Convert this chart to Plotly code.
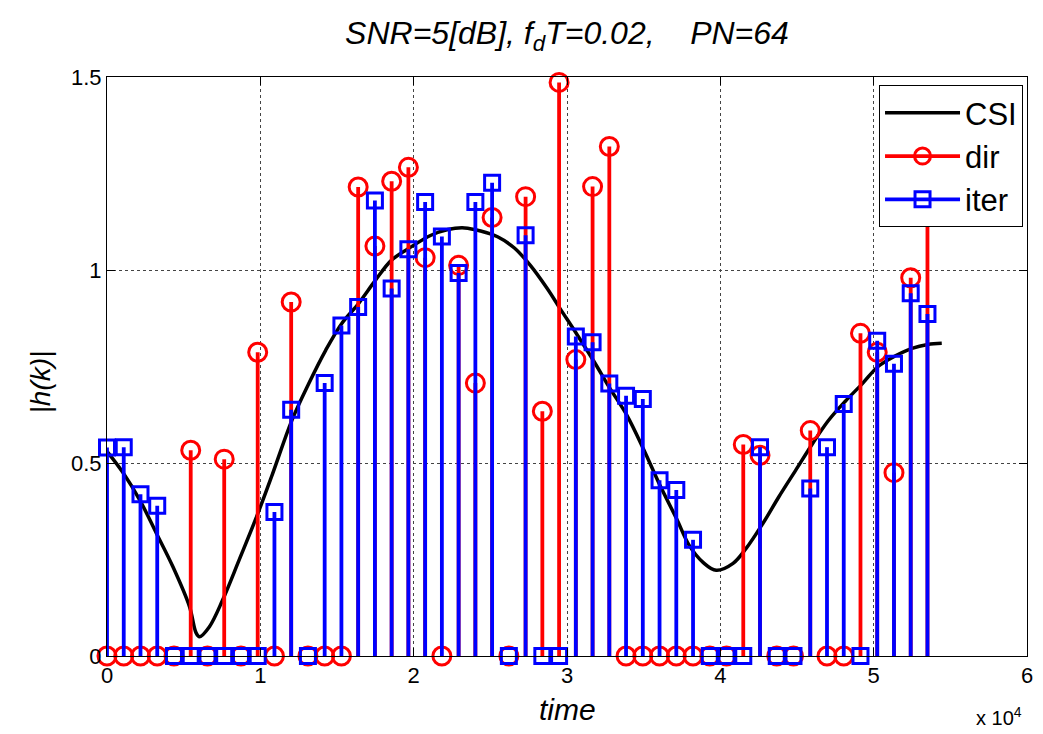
import plotly.graph_objects as go

# Sample grid of the channel estimates (time in units of 10^4)
step = 0.1092
n_samples = 50
sample_t = [k * step for k in range(n_samples)]

# Direct estimate |h(k)|
dir_vals = [0, 0, 0, 0, 0, 0.533, 0, 0.51, 0, 0.787,
            0, 0.917, 0, 0, 0, 1.215, 1.062, 1.23, 1.266, 1.032,
            0, 1.012, 0.707, 1.136, 0, 1.19, 0.634, 1.486, 0.768, 1.216,
            1.32, 0, 0, 0, 0, 0, 0, 0, 0.548, 0.52,
            0, 0, 0.584, 0, 0, 0.836, 0.787, 0.475, 0.98, 1.3]

# Iterative estimate |h(k)|
iter_vals = [0.54, 0.541, 0.419, 0.389, 0, 0, 0, 0, 0, 0,
             0.373, 0.638, 0, 0.707, 0.856, 0.904, 1.18, 0.952, 1.054, 1.176,
             1.087, 0.992, 1.176, 1.226, 0, 1.09, 0, 0, 0.828, 0.813,
             0.706, 0.674, 0.666, 0.455, 0.43, 0.301, 0, 0, 0, 0.541,
             0, 0, 0.434, 0.541, 0.653, 0, 0.817, 0.757, 0.94, 0.886]

# True channel magnitude (CSI)
csi_t = [0.000, 0.106, 0.214, 0.322, 0.430, 0.538, 0.581, 0.603, 0.668, 0.754,
         0.862, 0.970, 1.078, 1.205, 1.316, 1.426, 1.530, 1.640, 1.750, 1.854,
         1.964, 2.113, 2.223, 2.333, 2.437, 2.547, 2.657, 2.761, 2.871, 2.955,
         3.065, 3.176, 3.279, 3.390, 3.500, 3.603, 3.714, 3.798, 3.889, 3.973,
         4.083, 4.167, 4.277, 4.381, 4.491, 4.601, 4.705, 4.815, 4.925, 5.029,
         5.139, 5.250, 5.353, 5.444]
csi_v = [0.530, 0.474, 0.404, 0.318, 0.231, 0.128, 0.060, 0.050, 0.076, 0.145,
         0.249, 0.355, 0.470, 0.610, 0.706, 0.792, 0.861, 0.913, 0.973, 1.025,
         1.055, 1.090, 1.105, 1.109, 1.101, 1.086, 1.057, 1.012, 0.952, 0.900,
         0.833, 0.763, 0.694, 0.624, 0.535, 0.445, 0.356, 0.286, 0.242, 0.222,
         0.240, 0.278, 0.343, 0.412, 0.481, 0.550, 0.610, 0.660, 0.705, 0.750,
         0.777, 0.797, 0.807, 0.810]

x_ticks = [0, 1, 2, 3, 4, 5, 6]
y_ticks = [0, 0.5, 1, 1.5]

SCALE = 1e4
FONT = "Liberation Sans, Arial, Helvetica, sans-serif"
RED = "#ff0000"
BLUE = "#0000ff"


def stem_lines(t, v):
    xs, ys = [], []
    for ti, vi in zip(t, v):
        xs += [ti * SCALE, ti * SCALE, None]
        ys += [0, vi, None]
    return xs, ys


fig = go.Figure()

fig.add_trace(go.Scatter(
    x=[t * SCALE for t in csi_t], y=csi_v, mode="lines", line_shape="spline",
    line=dict(color="black", width=3.5), name="CSI"))

for vals, color, symbol, size, name in [
        (dir_vals, RED, "circle-open", 18, "dir"),
        (iter_vals, BLUE, "square-open", 15, "iter")]:
    sx, sy = stem_lines(sample_t, vals)
    fig.add_trace(go.Scatter(x=sx, y=sy, mode="lines",
                             line=dict(color=color, width=3.8),
                             showlegend=False, hoverinfo="skip"))
    fig.add_trace(go.Scatter(
        x=[t * SCALE for t in sample_t], y=vals, mode="markers",
        marker=dict(symbol=symbol, size=size, color=color,
                    line=dict(color=color, width=3)),
        cliponaxis=False, showlegend=False))
    fig.add_trace(go.Scatter(
        x=[None], y=[None], mode="lines+markers", name=name,
        line=dict(color=color, width=3.8),
        marker=dict(symbol=symbol, size=size, color=color,
                    line=dict(color=color, width=3))))

axis_common = dict(
    showline=True, linecolor="black", linewidth=1, mirror="ticks",
    ticks="inside", ticklen=8, tickcolor="black",
    showgrid=True, gridcolor="#444444", griddash="dot", gridwidth=1,
    zeroline=False, tickfont=dict(family=FONT, size=22, color="black"))

fig.update_xaxes(range=[0, 6 * SCALE], tickvals=[t * SCALE for t in x_ticks],
                 ticktext=[str(t) for t in x_ticks], **axis_common)
fig.update_yaxes(range=[0, 1.5], tickvals=y_ticks,
                 ticktext=["0", "0.5", "1", "1.5"], **axis_common)

fig.update_layout(
    width=1043, height=734,
    margin=dict(l=107, r=10, t=77, b=78),
    plot_bgcolor="white", paper_bgcolor="white",
    font=dict(family=FONT, color="black"),
    title=dict(text="<i>SNR=5[dB], f<sub>d</sub>T=0.02,&nbsp;&nbsp;&nbsp; PN=64</i>",
               x=0.5, xref="paper", xanchor="center",
               y=1 - 33 / 734, yref="container", yanchor="middle",
               font=dict(family=FONT, size=32, color="black")),
    legend=dict(x=(1029 - 107) / 926, y=0.986, xanchor="right", yanchor="top",
                bgcolor="white", bordercolor="black", borderwidth=1,
                font=dict(family=FONT, size=31, color="black"),
                itemwidth=75, tracegroupgap=6, traceorder="normal"),
    showlegend=True,
    annotations=[
        dict(text="<i>time</i>", xref="paper", yref="paper", x=0.5,
             y=-(710 - 656) / 579, xanchor="center", yanchor="middle",
             showarrow=False, font=dict(family=FONT, size=30, color="black")),
        dict(text="<i>|h(k)|</i>", xref="paper", yref="paper",
             x=-(107 - 40) / 926, y=(656 - 382) / 579, textangle=-90,
             xanchor="center", yanchor="middle", showarrow=False,
             font=dict(family=FONT, size=28, color="black")),
        dict(text="x 10<sup>4</sup>", xref="paper", yref="paper",
             x=(1005 - 107) / 926, y=-(716 - 656) / 579,
             xanchor="center", yanchor="middle", showarrow=False,
             font=dict(family=FONT, size=20, color="black")),
    ],
)

fig.write_html("out.html")
